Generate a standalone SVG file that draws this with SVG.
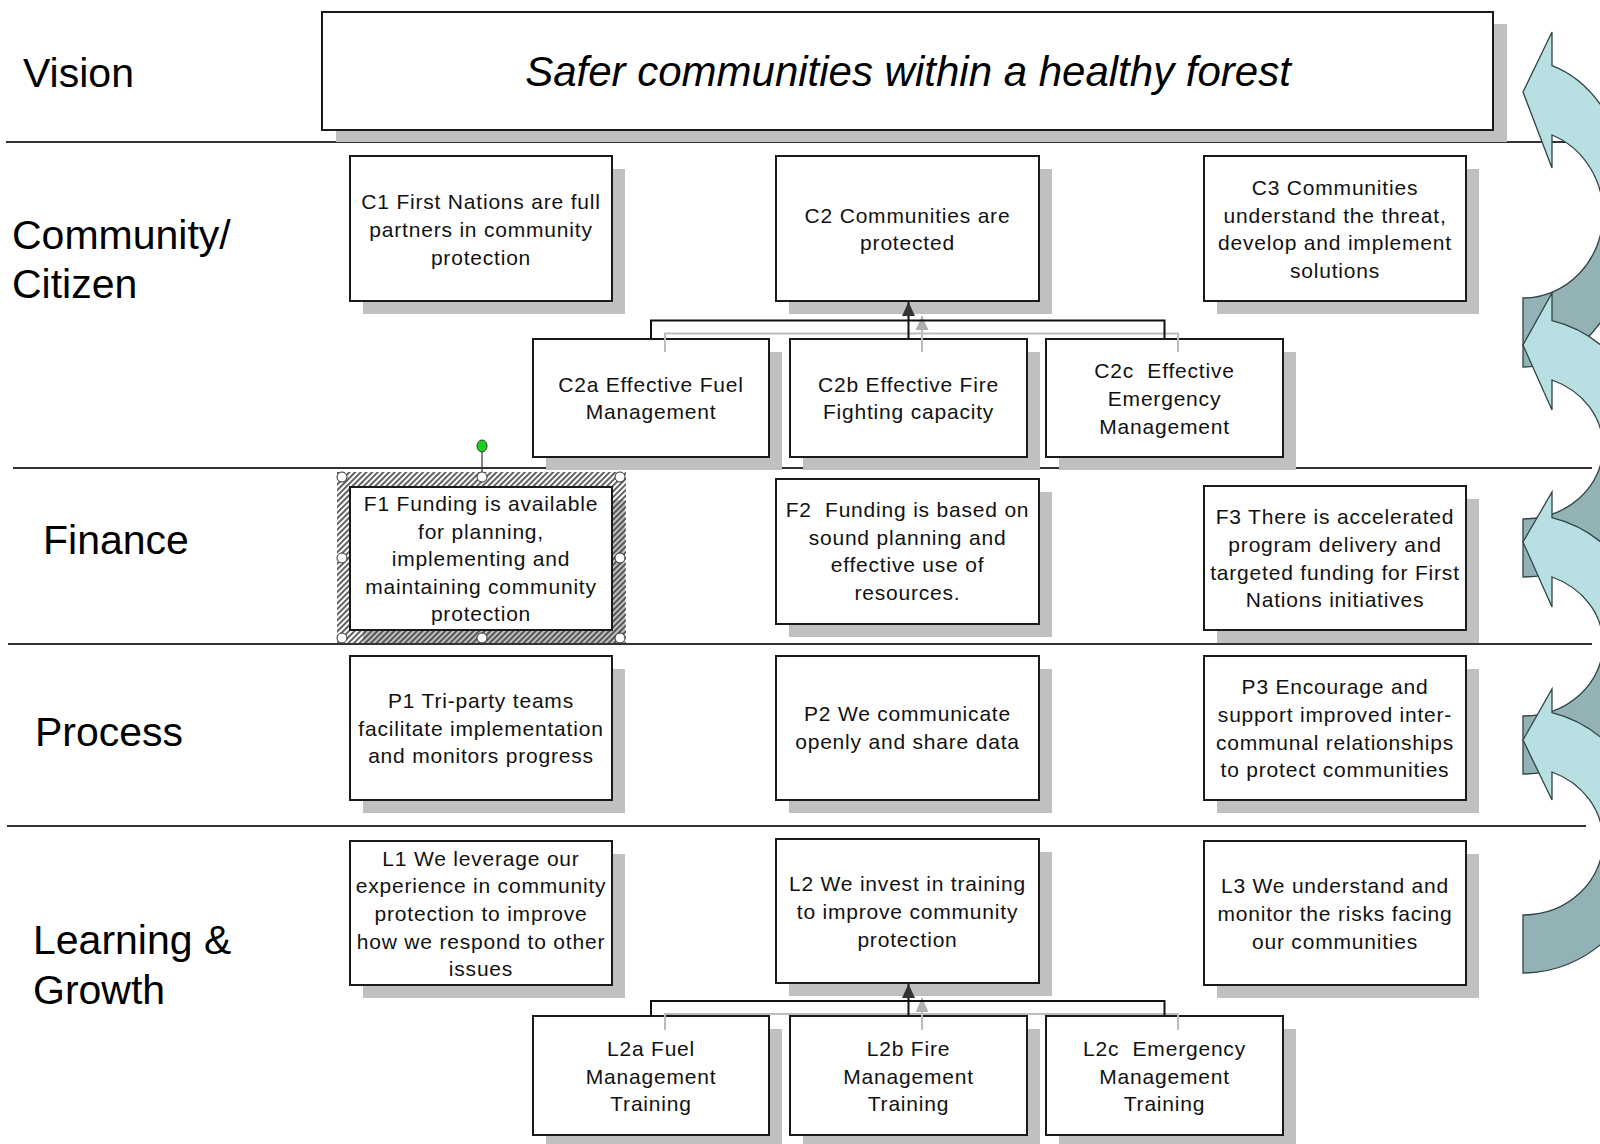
<svg xmlns="http://www.w3.org/2000/svg" width="1600" height="1144" viewBox="0 0 1600 1144">
<defs>
<style>
.lbl{font-family:"Liberation Sans",Arial,sans-serif;font-size:41px;fill:#000}
.vis{font-family:"Liberation Sans",Arial,sans-serif;font-size:42px;font-style:italic;fill:#000;text-anchor:middle}
.t{font-family:"Liberation Sans",Arial,sans-serif;font-size:21px;letter-spacing:0.8px;fill:#111;text-anchor:middle}
.box{fill:#fff;stroke:#1a1a1a;stroke-width:2}
.sh{fill:#c0c0c0}
.rule{stroke:#333;stroke-width:2;fill:none}
.con{stroke:#111;stroke-width:2;fill:none}
.cons{stroke:#bcbcbc;stroke-width:2;fill:none}
.lt{fill:#b8dfe2;stroke:#2f4446;stroke-width:1.3}
.dk{fill:#93b2b6;stroke:#2f4446;stroke-width:1.3}
.hd{fill:#fff;stroke:#333;stroke-width:1}
</style>
<marker id="arrB" viewBox="0 0 14 13" refX="14" refY="6.5" markerWidth="14" markerHeight="13" markerUnits="userSpaceOnUse" orient="auto"><path d="M0,0 L14,6.5 L0,13 Z" fill="#333"/></marker>
<marker id="arrG" viewBox="0 0 14 13" refX="14" refY="6.5" markerWidth="14" markerHeight="13" markerUnits="userSpaceOnUse" orient="auto"><path d="M0,0 L14,6.5 L0,13 Z" fill="#b0b0b0"/></marker>
<pattern id="hatch" width="4" height="4" patternUnits="userSpaceOnUse" patternTransform="rotate(45)"><line x1="1" y1="0" x2="1" y2="4" stroke="#3a3a3a" stroke-width="1.6"/></pattern>
</defs>
<rect width="1600" height="1144" fill="#fff"/>

<g id="rules">
<line class="rule" x1="6" y1="142" x2="1566" y2="142"/>
<line class="rule" x1="13" y1="468" x2="1592" y2="468"/>
<line class="rule" x1="8" y1="644" x2="1592" y2="644"/>
<line class="rule" x1="7" y1="826" x2="1586" y2="826"/>
</g>

<g id="row-labels">
<text class="lbl" x="23" y="87">Vision</text>
<text class="lbl" x="12" y="249">Community/</text>
<text class="lbl" x="12" y="298">Citizen</text>
<text class="lbl" x="43" y="554">Finance</text>
<text class="lbl" x="35" y="746">Process</text>
<text class="lbl" x="33" y="954">Learning &amp;</text>
<text class="lbl" x="33" y="1004">Growth</text>
</g>

<g id="cycle-arrows">
<path class="dk" d="M1523,298 A80,84.37 0 0 0 1603,213.63 L1633,213.63 A110,153.37 0 0 1 1523,367 Z"/>
<path class="lt" d="M1552,65.69 A110,153.37 0 0 1 1633,213.63 L1603,213.63 A80,84.37 0 0 0 1552,135 L1552,168 L1523,92 L1552,32 Z"/>
<path class="dk" d="M1523,519 A80,71.95 0 0 0 1603,447.05 L1648,447.05 A125,129.95 0 0 1 1523,577 Z"/>
<path class="lt" d="M1552,320.6 A125,129.95 0 0 1 1648,447.05 L1603,447.05 A80,71.95 0 0 0 1552,380 L1552,410 L1523,345 L1552,293 Z"/>
<path class="dk" d="M1523,716 A80,71.95 0 0 0 1603,644.05 L1648,644.05 A125,129.95 0 0 1 1523,774 Z"/>
<path class="lt" d="M1552,517.65 A125,129.95 0 0 1 1648,644.05 L1603,644.05 A80,71.95 0 0 0 1552,577 L1552,607 L1523,542 L1552,492 Z"/>
<path class="dk" d="M1523,915 A80,74.02 0 0 0 1603,840.98 L1648,840.98 A125,132.02 0 0 1 1523,973 Z"/>
<path class="lt" d="M1552,712.56 A125,132.02 0 0 1 1648,840.98 L1603,840.98 A80,74.02 0 0 0 1552,772 L1552,800 L1523,740 L1552,689 Z"/>
</g>

<g id="vision">
<rect class="sh" x="336" y="24" width="1171" height="118"/>
<rect class="box" x="322" y="12" width="1171" height="118"/>
<text class="vis" x="908" y="86">Safer communities within a healthy forest</text>
</g>

<g id="C1">
<rect class="sh" x="363" y="169" width="262" height="145"/>
<rect class="box" x="350" y="156" width="262" height="145"/>
<text class="t" x="481" y="209">C1 First Nations are full</text>
<text class="t" x="481" y="237">partners in community</text>
<text class="t" x="481" y="265">protection</text>
</g>
<g id="C2">
<rect class="sh" x="789" y="169" width="263" height="145"/>
<rect class="box" x="776" y="156" width="263" height="145"/>
<text class="t" x="907.5" y="223">C2 Communities are</text>
<text class="t" x="907.5" y="250">protected</text>
</g>
<g id="C3">
<rect class="sh" x="1217" y="169" width="262" height="145"/>
<rect class="box" x="1204" y="156" width="262" height="145"/>
<text class="t" x="1335" y="195">C3 Communities</text>
<text class="t" x="1335" y="223">understand the threat,</text>
<text class="t" x="1335" y="250">develop and implement</text>
<text class="t" x="1335" y="278">solutions</text>
</g>
<g id="C2a">
<rect class="sh" x="546" y="352" width="236" height="118"/>
<rect class="box" x="533" y="339" width="236" height="118"/>
<text class="t" x="651" y="392">C2a Effective Fuel</text>
<text class="t" x="651" y="419">Management</text>
</g>
<g id="C2b">
<rect class="sh" x="803" y="352" width="237" height="118"/>
<rect class="box" x="790" y="339" width="237" height="118"/>
<text class="t" x="908.5" y="392">C2b Effective Fire</text>
<text class="t" x="908.5" y="419">Fighting capacity</text>
</g>
<g id="C2c">
<rect class="sh" x="1059" y="352" width="237" height="118"/>
<rect class="box" x="1046" y="339" width="237" height="118"/>
<text class="t" x="1164.5" y="378" xml:space="preserve" style="white-space:pre">C2c  Effective</text>
<text class="t" x="1164.5" y="406">Emergency</text>
<text class="t" x="1164.5" y="434">Management</text>
</g>

<g id="F1">
<rect class="sh" x="363" y="500" width="262" height="143"/>
<path d="M337,472 H626 V643 H337 Z M350,487 V630 H612 V487 Z" fill="url(#hatch)" fill-rule="evenodd"/>
<rect class="box" x="350" y="487" width="262" height="143"/>
<text class="t" x="481" y="511">F1 Funding is available</text>
<text class="t" x="481" y="539">for planning,</text>
<text class="t" x="481" y="566">implementing and</text>
<text class="t" x="481" y="594">maintaining community</text>
<text class="t" x="481" y="621">protection</text>
<line x1="482" y1="451" x2="482" y2="472" stroke="#333" stroke-width="1.2"/>
<ellipse cx="482" cy="446" rx="5" ry="6" fill="#19d219" stroke="#333" stroke-width="1"/>
<circle class="hd" cx="342" cy="477" r="5"/>
<circle class="hd" cx="482" cy="477" r="5"/>
<circle class="hd" cx="620" cy="477" r="5"/>
<circle class="hd" cx="342" cy="558" r="5"/>
<circle class="hd" cx="620" cy="558" r="5"/>
<circle class="hd" cx="342" cy="638" r="5"/>
<circle class="hd" cx="482" cy="638" r="5"/>
<circle class="hd" cx="620" cy="638" r="5"/>
</g>
<g id="F2">
<rect class="sh" x="789" y="492" width="263" height="145"/>
<rect class="box" x="776" y="479" width="263" height="145"/>
<text class="t" x="907.5" y="517" xml:space="preserve" style="white-space:pre">F2  Funding is based on</text>
<text class="t" x="907.5" y="545">sound planning and</text>
<text class="t" x="907.5" y="572">effective use of</text>
<text class="t" x="907.5" y="600">resources.</text>
</g>
<g id="F3">
<rect class="sh" x="1217" y="499" width="262" height="144"/>
<rect class="box" x="1204" y="486" width="262" height="144"/>
<text class="t" x="1335" y="524">F3 There is accelerated</text>
<text class="t" x="1335" y="552">program delivery and</text>
<text class="t" x="1335" y="580">targeted funding for First</text>
<text class="t" x="1335" y="607">Nations initiatives</text>
</g>

<g id="P1">
<rect class="sh" x="363" y="669" width="262" height="144"/>
<rect class="box" x="350" y="656" width="262" height="144"/>
<text class="t" x="481" y="708">P1 Tri-party teams</text>
<text class="t" x="481" y="736">facilitate implementation</text>
<text class="t" x="481" y="763">and monitors progress</text>
</g>
<g id="P2">
<rect class="sh" x="789" y="669" width="263" height="144"/>
<rect class="box" x="776" y="656" width="263" height="144"/>
<text class="t" x="907.5" y="721">P2 We communicate</text>
<text class="t" x="907.5" y="749">openly and share data</text>
</g>
<g id="P3">
<rect class="sh" x="1217" y="669" width="262" height="144"/>
<rect class="box" x="1204" y="656" width="262" height="144"/>
<text class="t" x="1335" y="694">P3 Encourage and</text>
<text class="t" x="1335" y="722">support improved inter-</text>
<text class="t" x="1335" y="750">communal relationships</text>
<text class="t" x="1335" y="777">to protect communities</text>
</g>

<g id="L1">
<rect class="sh" x="363" y="854" width="262" height="144"/>
<rect class="box" x="350" y="841" width="262" height="144"/>
<text class="t" x="481" y="866">L1 We leverage our</text>
<text class="t" x="481" y="893">experience in community</text>
<text class="t" x="481" y="921">protection to improve</text>
<text class="t" x="481" y="949">how we respond to other</text>
<text class="t" x="481" y="976">issues</text>
</g>
<g id="L2">
<rect class="sh" x="789" y="852" width="263" height="144"/>
<rect class="box" x="776" y="839" width="263" height="144"/>
<text class="t" x="907.5" y="891">L2 We invest in training</text>
<text class="t" x="907.5" y="919">to improve community</text>
<text class="t" x="907.5" y="947">protection</text>
</g>
<g id="L3">
<rect class="sh" x="1217" y="854" width="262" height="144"/>
<rect class="box" x="1204" y="841" width="262" height="144"/>
<text class="t" x="1335" y="893">L3 We understand and</text>
<text class="t" x="1335" y="921">monitor the risks facing</text>
<text class="t" x="1335" y="949">our communities</text>
</g>
<g id="L2a">
<rect class="sh" x="546" y="1029" width="236" height="119"/>
<rect class="box" x="533" y="1016" width="236" height="119"/>
<text class="t" x="651" y="1056">L2a Fuel</text>
<text class="t" x="651" y="1084">Management</text>
<text class="t" x="651" y="1111">Training</text>
</g>
<g id="L2b">
<rect class="sh" x="803" y="1029" width="237" height="119"/>
<rect class="box" x="790" y="1016" width="237" height="119"/>
<text class="t" x="908.5" y="1056">L2b Fire</text>
<text class="t" x="908.5" y="1084">Management</text>
<text class="t" x="908.5" y="1111">Training</text>
</g>
<g id="L2c">
<rect class="sh" x="1059" y="1029" width="237" height="119"/>
<rect class="box" x="1046" y="1016" width="237" height="119"/>
<text class="t" x="1164.5" y="1056" xml:space="preserve" style="white-space:pre">L2c  Emergency</text>
<text class="t" x="1164.5" y="1084">Management</text>
<text class="t" x="1164.5" y="1111">Training</text>
</g>

<g id="connectors">
<path class="cons" d="M665,352 V333.5 H1178 V352"/>
<path class="cons" d="M922,352 V316" marker-end="url(#arrG)"/>
<path class="con" d="M651,339 V320.5 H1164.5 V339"/>
<path class="con" d="M908.5,339 V302" marker-end="url(#arrB)"/>
<path class="cons" d="M665,1030 V1014 H1178 V1030"/>
<path class="cons" d="M922,1030 V998" marker-end="url(#arrG)"/>
<path class="con" d="M651,1016 V1001 H1164.5 V1016"/>
<path class="con" d="M908.5,1016 V984" marker-end="url(#arrB)"/>
</g>
</svg>
